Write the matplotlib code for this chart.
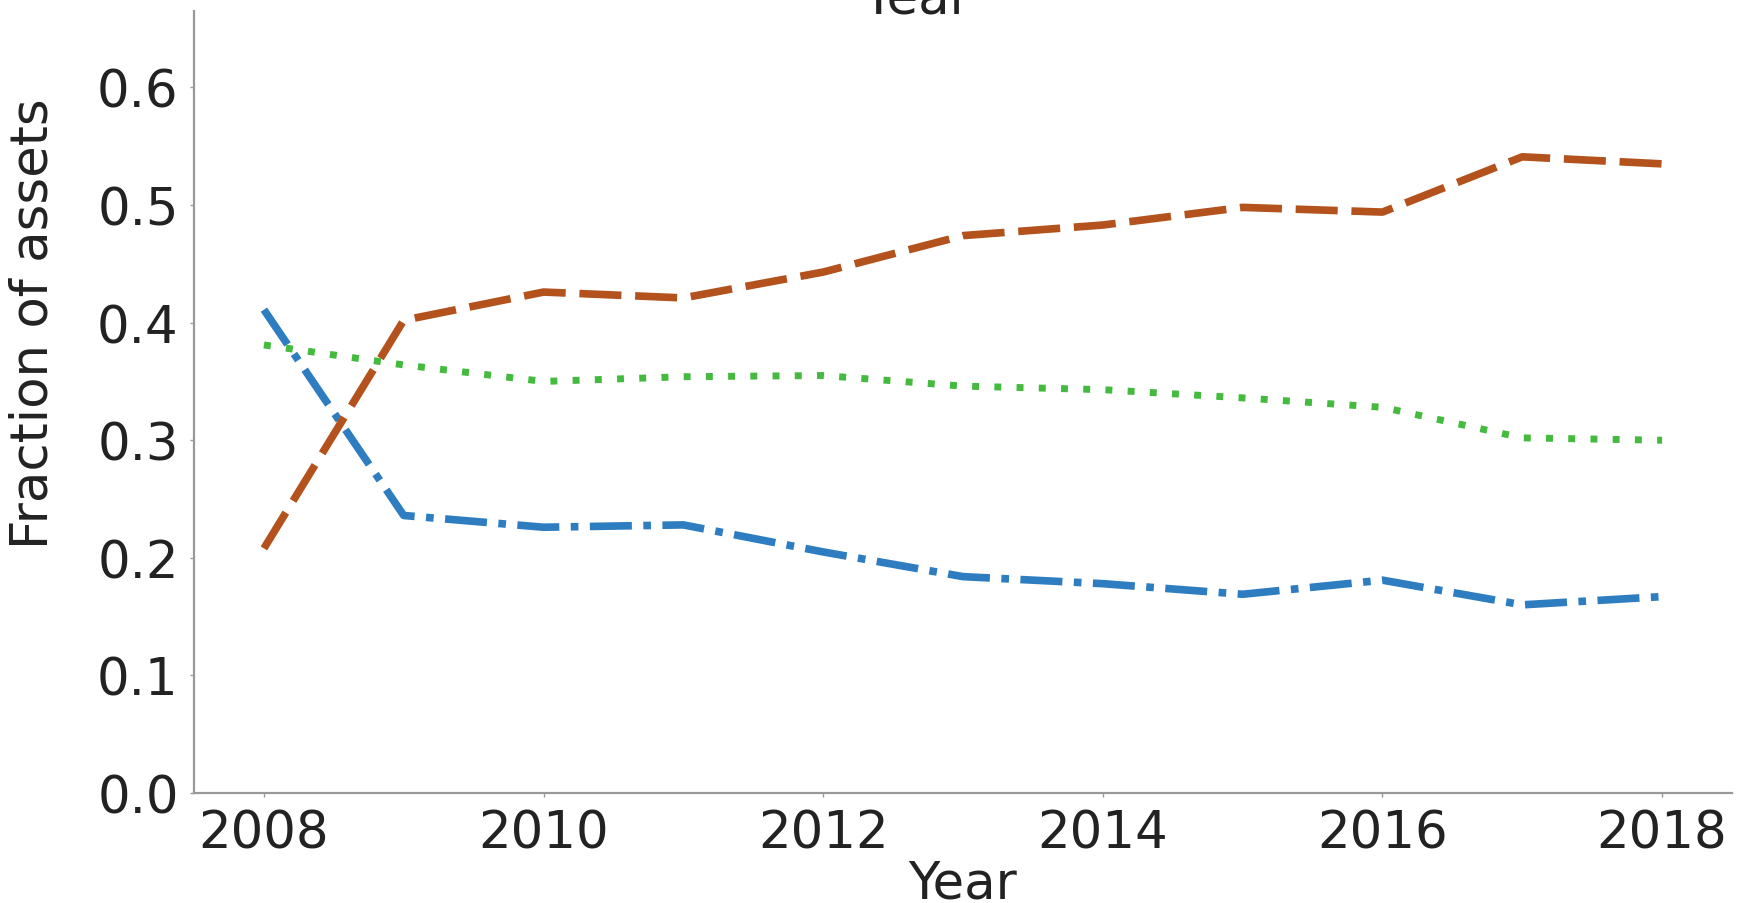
import numpy as np
import matplotlib.pyplot as plt

years = [2008, 2009, 2010, 2011, 2012, 2013, 2014, 2015, 2016, 2017, 2018]
blue_vals = [0.411, 0.236, 0.226, 0.228, 0.205, 0.184, 0.178, 0.169, 0.181, 0.160, 0.167]
orange_vals = [0.208, 0.402, 0.426, 0.421, 0.443, 0.474, 0.483, 0.498, 0.494, 0.541, 0.535]
green_vals = [0.381, 0.364, 0.350, 0.354, 0.355, 0.346, 0.343, 0.336, 0.328, 0.302, 0.300]

xticks = [2008, 2010, 2012, 2014, 2016, 2018]
yticks = [0.0, 0.1, 0.2, 0.3, 0.4, 0.5, 0.6]

plt.rcParams.update({"font.family": "DejaVu Sans", "font.size": 37})

fig = plt.figure(figsize=(17.41, 9.04), dpi=100)
ax = fig.add_axes([194/1741, 1 - 794/904, (1732-194)/1741, (794-12)/904])

ax.plot(years, blue_vals, color='#2e7dc0', lw=5.5, linestyle=(0, (5.5, 1.5, 1, 1.5)))
ax.plot(years, orange_vals, color='#b3521c', lw=5.5, linestyle=(0, (5.5, 1.8)))
ax.plot(years, green_vals, color='#44bb3f', lw=5, linestyle=(0, (1, 2.2)))

ax.set_xlim(2007.5, 2018.5)
ax.set_ylim(0, 0.665)
ax.set_xticks(xticks)
ax.set_yticks(yticks)
ax.set_yticklabels([f'{v:.1f}' for v in yticks])

for side in ['top', 'right']:
    ax.spines[side].set_visible(False)
for side in ['left', 'bottom']:
    ax.spines[side].set_color('#999999')
    ax.spines[side].set_linewidth(1.6)
ax.tick_params(length=3, width=1, color='#999999', pad=8, labelcolor='#222222')

ax.set_xlabel('Year', color='#222222', labelpad=0)
ax.set_ylabel('Fraction of assets', color='#222222')
ax.yaxis.set_label_coords(-0.088, 0.602)

# clipped label from the panel above
fig.text(916/1741, 1 - 13/904, 'Year', ha='center', va='baseline', color='#222222')

fig.savefig('out.png', dpi=100)
